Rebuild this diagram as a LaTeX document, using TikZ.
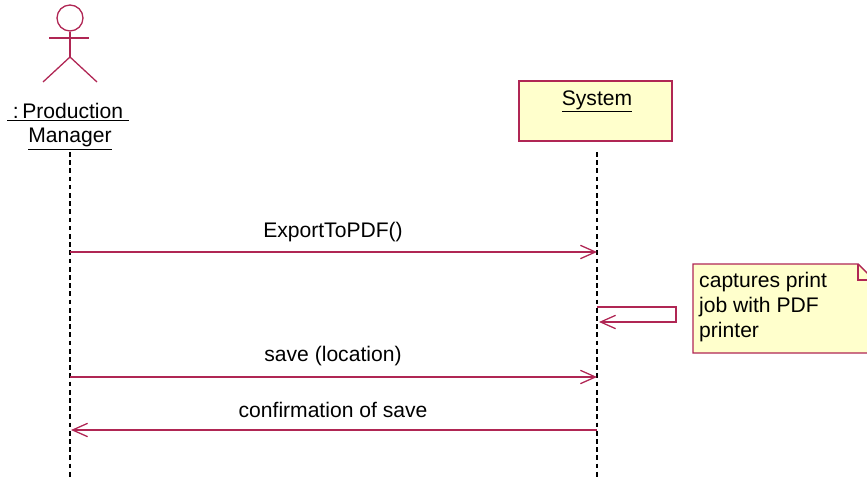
\documentclass[tikz,border=0pt]{standalone}
\usepackage{fontspec}
\setmainfont{Liberation Sans}
\usepackage{tikz}
\usetikzlibrary{arrows.meta,positioning}
\definecolor{umlred}{RGB}{176,38,84}
\definecolor{noteyellow}{RGB}{255,255,204}
\tikzstyle{label}=[font=\fontsize{18}{21.5}\selectfont, inner sep=0pt]
\tikzstyle{object}=[draw=umlred, line width=1.2pt, fill=noteyellow]
\tikzstyle{lifeline}=[black, line width=1pt, dash pattern=on 4pt off 3pt]
\tikzstyle{message}=[umlred, line width=1.1pt, -{Straight Barb[length=0.45cm,width=0.4cm]}]
\tikzstyle{actor}=[umlred, line width=1.1pt]

\begin{document}
\begin{tikzpicture}[x=0.03cm, y=-0.03cm]
        \useasboundingbox (0,0) rectangle (867,478);

        % Attore
        \node[actor, draw, circle, minimum size=26*0.03cm, inner sep=0pt] (pm_head) at (70,18) {};
        \coordinate (pm_hip) at (70,57);
        \draw[actor] (pm_head.south) -- (pm_hip);
        \draw[actor] (49,38) -- (89,38);
        \draw[actor] (43,82) -- (pm_hip) -- (97,82);
        \node[label] (pm_name) at (68,112) {\underline{\ :\,Production\ }};
        \node[label] (pm_role) at (70,139) {\underline{Manager}};

        % Oggetto
        \node[object, minimum width=153*0.03cm, minimum height=60*0.03cm] (sys_box) at (595.5,111) {};
        \node[label] (sys_name) at (597,101) {\underline{System}};

        % Linee di vita
        \coordinate (pm_top) at (70,152);
        \coordinate (pm_end) at (70,478);
        \coordinate (sys_top) at (597,152);
        \coordinate (sys_end) at (597,478);
        \draw[lifeline] (pm_top) -- (pm_end);
        \draw[lifeline] (sys_top) -- (sys_end);

        % Messaggi
        \coordinate (pm_m1) at (70,252);
        \coordinate (sys_m1) at (597,252);
        \draw[message] (pm_m1) -- (sys_m1);
        \node[label] (lbl_m1) at (333,232) {ExportToPDF()};

        \coordinate (self_out) at (597,307);
        \coordinate (self_corner) at (676,307);
        \coordinate (self_in) at (599,322);
        \draw[message] (self_out) -- (self_corner) |- (self_in);

        \coordinate (pm_m2) at (70,377);
        \coordinate (sys_m2) at (597,377);
        \draw[message] (pm_m2) -- (sys_m2);
        \node[label] (lbl_m2) at (333,356) {save (location)};

        \coordinate (sys_m3) at (597,430);
        \coordinate (pm_m3) at (71,430);
        \draw[message] (sys_m3) -- (pm_m3);
        \node[label] (lbl_m3) at (333,410) {confirmation of save};

        % Nota
        \begin{scope}
        \clip (0,0) rectangle (867,478);
        \draw[object] (693,264) -- (858,264) -- (876,282) -- (876,353) -- (693,353) -- cycle;
        \draw[umlred, line width=1.2pt] (858,264) -- (858,280) -- (876,280);
        \end{scope}
        \node[label, anchor=north west, align=left] (note_text) at (699,272) {captures print\\job with PDF\\printer};
    \end{tikzpicture}
\end{document}
